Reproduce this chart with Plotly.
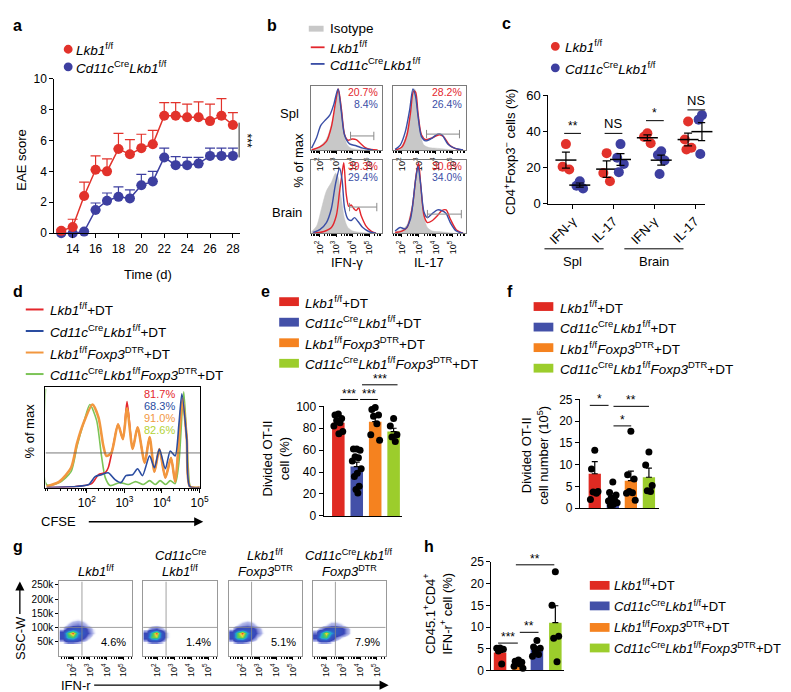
import numpy as np
import plotly.graph_objects as go

W, H = 791, 692
FONT = "Liberation Sans, Arial, sans-serif"

# ======================= DATA =======================
# (a) EAE clinical score
days = list(range(13, 29))
eae_lkb1 = [0.15, 0.4, 2.4, 4.1, 4.0, 5.45, 5.1, 5.5, 5.75, 7.6, 7.6, 7.5, 7.5, 7.25, 7.6, 7.0]
eae_lkb1_sem = [0.1, 0.5, 0.9, 0.9, 0.8, 1.0, 0.95, 0.9, 0.9, 0.85, 0.85, 0.85, 1.0, 1.1, 1.1, 0.8]
eae_cd11c = [0.0, 0.0, 0.1, 1.5, 2.1, 2.35, 2.25, 3.1, 3.35, 4.9, 4.4, 4.4, 4.5, 5.0, 5.0, 5.0]
eae_cd11c_sem = [0, 0, 0, 0.45, 0.5, 0.65, 0.55, 0.7, 0.65, 0.6, 0.55, 0.5, 0.4, 0.5, 0.5, 0.5]
a_ticks = [14, 16, 18, 20, 22, 24, 26, 28]

# (b) intracellular cytokine histograms (log10 fluorescence, % of max)
spl_ifng_iso = [(1.6, 0), (2.0, 6), (2.4, 18), (2.7, 42), (2.95, 78), (3.12, 100), (3.3, 72), (3.48, 30), (3.65, 9), (3.9, 3), (4.3, 1), (5.0, 0)]
spl_ifng_lkb1 = [(1.5, 0), (2.0, 5), (2.4, 14), (2.7, 38), (2.95, 78), (3.12, 100), (3.3, 68), (3.5, 25), (3.7, 16), (3.95, 18), (4.2, 17), (4.45, 11), (4.75, 4), (5.1, 1), (5.5, 0)]
spl_ifng_cd11c = [(1.5, 3), (1.8, 20), (2.05, 40), (2.3, 48), (2.6, 57), (2.85, 75), (3.1, 100), (3.3, 63), (3.5, 24), (3.8, 10), (4.2, 7), (4.6, 3), (5.2, 0)]
spl_il17_iso = [(1.6, 0), (1.9, 3), (2.2, 20), (2.45, 55), (2.63, 93), (2.75, 100), (2.9, 70), (3.1, 25), (3.3, 8), (3.6, 4), (4.0, 3), (4.4, 2), (5.0, 0)]
spl_il17_lkb1 = [(1.6, 0), (2.0, 5), (2.3, 25), (2.5, 60), (2.68, 96), (2.8, 95), (2.95, 60), (3.15, 25), (3.4, 17), (3.8, 20), (4.2, 25), (4.45, 22), (4.8, 8), (5.2, 2), (5.6, 0)]
spl_il17_cd11c = [(1.6, 1), (1.9, 8), (2.2, 30), (2.45, 65), (2.65, 100), (2.8, 88), (2.95, 55), (3.15, 22), (3.4, 15), (3.8, 20), (4.1, 26), (4.35, 25), (4.7, 10), (5.1, 3), (5.6, 0)]
brain_ifng_iso = [(1.5, 2), (1.8, 10), (2.1, 35), (2.4, 60), (2.7, 72), (2.95, 85), (3.1, 80), (3.3, 50), (3.5, 20), (3.7, 8), (4.0, 3), (4.5, 1), (5.0, 0)]
brain_ifng_lkb1 = [(1.6, 0), (2.2, 2), (2.7, 8), (3.0, 25), (3.2, 60), (3.35, 85), (3.45, 100), (3.6, 55), (3.75, 38), (3.9, 40), (4.05, 35), (4.2, 32), (4.35, 36), (4.5, 25), (4.8, 10), (5.1, 3), (5.4, 0)]
brain_ifng_cd11c = [(1.6, 1), (2.0, 5), (2.4, 15), (2.7, 35), (2.95, 70), (3.2, 92), (3.35, 75), (3.5, 35), (3.7, 20), (3.9, 18), (4.1, 22), (4.3, 17), (4.6, 8), (5.0, 2), (5.4, 0)]
brain_il17_iso = [(1.6, 2), (2.0, 5), (2.3, 12), (2.6, 40), (2.85, 85), (2.97, 95), (3.1, 70), (3.3, 25), (3.5, 8), (3.8, 3), (4.3, 2), (5.0, 0)]
brain_il17_lkb1 = [(1.6, 1), (2.0, 3), (2.3, 8), (2.6, 35), (2.85, 85), (2.98, 100), (3.12, 65), (3.3, 25), (3.5, 15), (3.8, 18), (4.1, 25), (4.35, 32), (4.6, 33), (4.85, 20), (5.2, 5), (5.6, 0)]
brain_il17_cd11c = [(1.6, 3), (1.9, 8), (2.2, 6), (2.5, 20), (2.8, 75), (2.95, 95), (3.1, 70), (3.3, 30), (3.5, 22), (3.8, 28), (4.1, 33), (4.35, 32), (4.6, 28), (4.85, 15), (5.2, 3), (5.6, 0)]
b_gates = [(3.86, 5.27, 23), (3.45, 5.39, 26), (3.8, 5.45, 37), (3.5, 5.5, 27)]
b_pct_lkb1 = ['20.7%', '28.2%', '39.3%', '30.6%']
b_pct_cd11c = ['8.4%', '26.4%', '29.4%', '34.0%']

# (c) CD4+Foxp3- cytokine producers (%)
c_categories = ['IFN-γ', 'IL-17', 'IFN-γ', 'IL-17']
c_lkb1 = [[33, 20.5, 19], [28, 17, 12.5], [39, 37, 33.5], [45.5, 35.5, 31, 30]]
c_cd11c = [[12.5, 10, 8.5], [33, 25.5, 22, 17.5], [29, 27, 24, 16.5], [49, 46.5, 36.5, 27.5]]
c_sig = ['**', 'NS', '*', 'NS']

# (d) CFSE dilution histograms (log10 CFSE, % of max)
cfse_lkb1 = [(0.93, 0), (1.71, 1), (2.13, 4), (2.31, 13), (2.49, 15), (2.57, 20), (2.7, 42), (2.83, 64), (2.96, 49), (3.07, 87), (3.22, 39), (3.35, 61), (3.54, 25), (3.67, 51), (3.8, 16), (3.93, 39), (4.09, 10), (4.24, 30), (4.35, 6), (4.48, 64), (4.55, 88), (4.66, 49), (4.74, 1), (5.0, 0)]
cfse_cd11c = [(0.93, 0), (1.71, 1), (2.05, 3), (2.22, 11), (2.39, 13), (2.57, 15), (2.75, 8), (2.91, 5), (3.04, 12), (3.22, 13), (3.35, 19), (3.48, 12), (3.67, 32), (3.8, 20), (3.93, 39), (4.09, 19), (4.22, 37), (4.35, 32), (4.45, 64), (4.53, 95), (4.66, 49), (4.74, 1), (5.0, 0)]
cfse_lkb1_foxp3 = [(0.93, 1), (1.27, 6), (1.58, 20), (1.74, 45), (1.92, 66), (2.15, 84), (2.31, 71), (2.44, 42), (2.52, 32), (2.65, 35), (2.83, 64), (2.96, 49), (3.07, 80), (3.22, 39), (3.35, 61), (3.54, 25), (3.67, 51), (3.8, 16), (3.93, 39), (4.09, 10), (4.24, 30), (4.35, 6), (4.48, 64), (4.55, 90), (4.66, 49), (4.74, 1), (5.0, 0)]
cfse_cd11c_foxp3 = [(0.9, 100), (0.93, 3), (1.27, 5), (1.58, 16), (1.74, 42), (1.92, 66), (2.08, 84), (2.26, 68), (2.39, 32), (2.49, 10), (2.62, 2), (2.88, 5), (3.1, 3), (3.3, 6), (3.5, 3), (3.67, 7), (3.82, 3), (3.95, 7), (4.1, 3), (4.22, 7), (4.35, 4), (4.45, 25), (4.58, 97), (4.7, 20), (4.76, 1), (5.0, 0)]
d_pct = ['81.7%', '68.3%', '91.0%', '82.6%']

# (e) divided OT-II cells (%)
e_mean = [85, 45, 86, 77]
e_sem = [2.5, 4.0, 4.0, 3.0]
e_dots = [[93, 92, 89, 87, 85, 82, 77, 75],
          [61, 61, 60, 54, 53, 50, 43, 39, 36, 27, 24, 21],
          [99, 97, 92, 91, 84, 74, 69],
          [89, 82, 74, 72, 68]]

# (f) divided OT-II cell number (10^5)
f_mean = [7.9, 1.85, 6.3, 7.1]
f_sem = [2.8, 0.7, 2.2, 2.1]
f_dots = [[13.3, 9.0, 3.8, 3.7, 3.4, 2.0],
          [6.0, 3.6, 3.0, 2.4, 2.0, 1.6, 1.2, 0.8, 0.6],
          [17.7, 7.7, 6.7, 3.8, 3.5, 3.4, 1.8],
          [12.9, 9.9, 5.2, 4.0, 3.8]]

# (g) IFN-r vs SSC-W density (binned log10 IFN-r x SSC-W)
g_xbins = [1.35, 1.65, 1.95, 2.25, 2.55, 2.85, 3.15, 3.45]
g_ybins = [50000, 65000, 80000, 95000, 110000, 125000, 140000]
g_density = [
    [[0.4, 1.2, 1.2, 0.8, 0.4, 0.2, 0, 0],
     [2, 6, 7, 4, 2, 0.8, 0.3, 0],
     [2, 7, 10, 5, 3, 1.5, 0.6, 0.2],
     [0.5, 2, 3, 3, 2.5, 1.2, 0.5, 0.2],
     [0.2, 0.6, 1, 1.2, 0.9, 0.5, 0.2, 0],
     [0, 0.2, 0.4, 0.5, 0.4, 0.2, 0, 0],
     [0, 0, 0.2, 0.2, 0.1, 0, 0, 0]],
    [[0.4, 1.2, 1.2, 0.6, 0.2, 0, 0, 0],
     [2, 7, 8, 3, 0.6, 0.2, 0, 0],
     [1.5, 6, 10, 3, 0.6, 0.2, 0, 0],
     [0.3, 1.2, 1.5, 0.8, 0.3, 0.1, 0, 0],
     [0, 0.3, 0.4, 0.3, 0.1, 0, 0, 0],
     [0, 0.1, 0.2, 0.1, 0, 0, 0, 0],
     [0, 0, 0, 0, 0, 0, 0, 0]],
    [[0.4, 1.2, 1.2, 0.7, 0.3, 0.2, 0, 0],
     [2, 7, 8, 4, 1.8, 0.6, 0.2, 0],
     [2, 7, 10, 5, 2.5, 1.2, 0.5, 0.1],
     [0.5, 2, 2.5, 2.5, 2, 1, 0.4, 0.1],
     [0.1, 0.5, 0.8, 1, 0.8, 0.4, 0.2, 0],
     [0, 0.1, 0.3, 0.4, 0.3, 0.1, 0, 0],
     [0, 0, 0.1, 0.1, 0.1, 0, 0, 0]],
    [[0.3, 1, 1, 0.5, 0.2, 0, 0, 0],
     [1.8, 6, 7, 3, 1.2, 0.6, 0.3, 0.1],
     [1.2, 5, 9, 5, 3, 2, 1, 0.3],
     [0.3, 1, 2, 3, 3, 2, 1, 0.3],
     [0, 0.2, 0.5, 0.8, 0.8, 0.6, 0.3, 0.1],
     [0, 0, 0.1, 0.3, 0.3, 0.2, 0.1, 0],
     [0, 0, 0, 0, 0, 0, 0, 0]]]
g_gate = (2.53, 100000)
g_pct = ['4.6%', '1.4%', '5.1%', '7.9%']
g_yticks = [50000, 100000, 150000, 200000, 250000]
g_yticktext = ['50k', '100k', '150k', '200k', '250k']

# (h) CD45.1+CD4+IFN-r+ cells (%)
h_mean = [4.15, 1.35, 4.85, 11.0]
h_sem = [0.7, 0.3, 0.6, 3.9]
h_dots = [[5.2, 5.1, 4.9, 4.5, 1.5],
          [2.4, 2.1, 1.9, 1.8, 1.5, 1.0, 0.5],
          [6.9, 5.4, 5.1, 4.5, 3.7, 3.3],
          [22.7, 15.0, 7.9, 7.4, 2.0]]

# ======================= STYLE =======================
RED_A, BLUE_A = '#e2322b', '#3d3fa0'
HRED, HBLUE, HGRAY = '#e3262d', '#3a4ea6', '#c8c8c8'
BAR_RED, BAR_BLUE, BAR_ORANGE, BAR_GREEN = '#e02a22', '#4350a8', '#f5821f', '#9ccd2c'
D_RED, D_BLUE, D_ORANGE, D_GREEN = '#e4262b', '#2a4ca0', '#f2973f', '#7cc457'
PCT_GREEN = '#b3d236'
G_CS = [[0.0, 'rgba(255,255,255,0)'], [0.03, 'rgba(255,255,255,0)'], [0.06, 'rgba(110,120,215,0.5)'],
        [0.15, '#3a46b8'], [0.38, '#2f62c8'], [0.52, '#22a8d8'], [0.64, '#2cc08a'], [0.76, '#7ad040'],
        [0.86, '#f0e040'], [0.94, '#f09030'], [1.0, '#e83020']]

LOG_T = [2, 3, 4, 5]
LOG_TT = ['10<sup>2</sup>', '10<sup>3</sup>', '10<sup>4</sup>', '10<sup>5</sup>']
LOG_MINOR = [float(np.log10(k) + e) for e in range(0, 6) for k in range(2, 10)]

JIT = [0.0, -0.18, 0.18, -0.09, 0.09, -0.24, 0.24, 0.03, -0.13, 0.13, -0.04, 0.06]

L_LKB = '<i>Lkb1</i><sup>f/f</sup>'
L_CD = '<i>Cd11c</i><sup>Cre</sup><i>Lkb1</i><sup>f/f</sup>'
L_FOX = '<i>Foxp3</i><sup>DTR</sup>'
DT_LABELS = [L_LKB + '+DT', L_CD + '+DT', L_LKB + L_FOX + '+DT', L_CD + L_FOX + '+DT']
LEG = 13.5


def dx(a, b):
    return [a / W, b / W]


def dy(t, b):
    return [1 - b / H, 1 - t / H]


BASE = dict(showgrid=False, zeroline=False, showline=True, linecolor='black', linewidth=1,
            ticks='outside', ticklen=4, tickwidth=1, tickcolor='black',
            tickfont=dict(family=FONT, size=12, color='black'), fixedrange=True)
axes = {}


def add_axes(n, xdom, ydom, xkw=None, ykw=None):
    s = '' if n == 1 else str(n)
    xa = dict(BASE)
    xa.update(domain=xdom, anchor='y' + s)
    xa.update(xkw or {})
    ya = dict(BASE)
    ya.update(domain=ydom, anchor='x' + s)
    ya.update(ykw or {})
    axes['xaxis' + s] = xa
    axes['yaxis' + s] = ya
    return 'x' + s, 'y' + s


ann, shp = [], []


def txt(x, y, s, size=13, color='black', xa='left', ya='middle', angle=0, bold=False):
    if bold:
        s = '<b>' + s + '</b>'
    ann.append(dict(x=x / W, y=1 - y / H, xref='paper', yref='paper', text=s, showarrow=False,
                    xanchor=xa, yanchor=ya, textangle=angle, borderpad=0,
                    font=dict(family=FONT, size=size, color=color)))


def pline(x0, y0, x1, y1, color='black', width=1):
    shp.append(dict(type='line', xref='paper', yref='paper', x0=x0 / W, x1=x1 / W,
                    y0=1 - y0 / H, y1=1 - y1 / H, line=dict(color=color, width=width)))


def prect(x0, y0, x1, y1, color):
    shp.append(dict(type='rect', xref='paper', yref='paper', x0=x0 / W, x1=x1 / W,
                    y0=1 - y1 / H, y1=1 - y0 / H, fillcolor=color, line=dict(width=0)))


def pcircle(cx, cy, r, color):
    shp.append(dict(type='circle', xref='paper', yref='paper', x0=(cx - r) / W, x1=(cx + r) / W,
                    y0=1 - (cy + r) / H, y1=1 - (cy - r) / H, fillcolor=color, line=dict(width=0)))


def parrow(x0, y0, x1, y1):
    ann.append(dict(x=x1 / W, y=1 - y1 / H, xref='paper', yref='paper', ax=x0 - x1, ay=y0 - y1,
                    axref='pixel', ayref='pixel', showarrow=True, arrowhead=2, arrowsize=1.4,
                    arrowwidth=1.3, arrowcolor='black', text=''))


fig = go.Figure()


def xy(pairs):
    return [p[0] for p in pairs], [p[1] for p in pairs]


# ======================= PANEL a =======================
xa_, ya_ = add_axes(1, dx(45, 233), dy(65, 223),
                    dict(range=[12.4, 28.6], tickvals=a_ticks),
                    dict(range=[0, 10], tickvals=[0, 2, 4, 6, 8, 10]))
for yv, err, col in [(eae_cd11c, eae_cd11c_sem, BLUE_A), (eae_lkb1, eae_lkb1_sem, RED_A)]:
    fig.add_trace(go.Scatter(x=days, y=yv, mode='lines+markers', xaxis=xa_, yaxis=ya_,
                             line=dict(color=col, width=1.5), marker=dict(size=10, color=col),
                             error_y=dict(type='data', symmetric=False, array=err,
                                          arrayminus=[0] * len(err), color=col, thickness=1.2, width=5),
                             cliponaxis=False, showlegend=False, hoverinfo='skip'))
fig.add_trace(go.Scatter(x=[28.55, 28.55], y=[4.9, 7.15], mode='lines', xaxis=xa_, yaxis=ya_,
                         line=dict(color='black', width=1), showlegend=False, hoverinfo='skip'))
txt(240, 128, '***', size=12, xa='center', angle=90)
txt(140, 265, 'Time (d)', size=13, xa='center')
txt(12, 148, 'EAE score', size=13, xa='center', angle=-90)
pcircle(59, 35, 4.5, RED_A)
pcircle(59, 53, 4.5, BLUE_A)
txt(66, 35, L_LKB, size=LEG)
txt(66, 53, L_CD, size=LEG)
txt(8, 11, 'a', size=16, bold=True, xa='center')

# ======================= PANEL b =======================
b_sets = [(spl_ifng_iso, spl_ifng_lkb1, spl_ifng_cd11c),
          (spl_il17_iso, spl_il17_lkb1, spl_il17_cd11c),
          (brain_ifng_iso, brain_ifng_lkb1, brain_ifng_cd11c),
          (brain_il17_iso, brain_il17_lkb1, brain_il17_cd11c)]
b_boxes = [((305, 377), (73, 138)), ((388, 462), (73, 138)), ((305, 377), (148, 223)), ((388, 462), (148, 223))]
for i, ((iso, lk, cd), ((x0, x1), (y0, y1))) in enumerate(zip(b_sets, b_boxes)):
    xa_, ya_ = add_axes(3 + i, dx(x0, x1), dy(y0, y1),
                        dict(range=[1.45, 5.75], tickvals=LOG_T, ticktext=LOG_TT, tickangle=-90,
                             tickfont=dict(family=FONT, size=9, color='black'), ticklen=3,
                             minor=dict(tickvals=LOG_MINOR, ticklen=2, ticks='outside', tickcolor='black'),
                             mirror=True, linecolor='#7a7a7a'),
                        dict(range=[0, 104], showticklabels=False, ticks='', mirror=True, linecolor='#7a7a7a'))
    X, Y = xy(iso)
    fig.add_trace(go.Scatter(x=X, y=Y, mode='lines', fill='tozeroy', fillcolor=HGRAY, xaxis=xa_, yaxis=ya_,
                             line=dict(color=HGRAY, width=0.5, shape='spline', smoothing=0.8),
                             showlegend=False, hoverinfo='skip'))
    for pairs, col in [(lk, HRED), (cd, HBLUE)]:
        X, Y = xy(pairs)
        fig.add_trace(go.Scatter(x=X, y=Y, mode='lines', xaxis=xa_, yaxis=ya_,
                                 line=dict(color=col, width=1.4, shape='spline', smoothing=0.8),
                                 showlegend=False, hoverinfo='skip'))
    g0, g1, gy = b_gates[i]
    fig.add_trace(go.Scatter(x=[g0, g1], y=[gy, gy], mode='lines+markers', xaxis=xa_, yaxis=ya_,
                             line=dict(color='#8a8a8a', width=1),
                             marker=dict(symbol='line-ns-open', size=6, color='#8a8a8a',
                                         line=dict(color='#8a8a8a', width=1)),
                             showlegend=False, hoverinfo='skip'))
    txt(x1 - 3, y0 + 6, b_pct_lkb1[i], size=10.5, color=HRED, xa='right')
    txt(x1 - 3, y0 + 18, b_pct_cd11c[i], size=10.5, color=HBLUE, xa='right')
prect(303, 11, 318, 17, HGRAY)
pline(305, 33, 319, 33, HRED, 1.8)
pline(305, 50, 319, 50, HBLUE, 1.8)
txt(323, 14, 'Isotype', size=LEG)
txt(323, 33, L_LKB, size=LEG)
txt(323, 50, L_CD, size=LEG)
txt(283, 101, 'Spl', size=13, xa='center')
txt(281, 202, 'Brain', size=13, xa='center')
txt(293, 148, '% of max', size=13, xa='center', angle=-90)
txt(342, 253, 'IFN-γ', size=13, xa='center')
txt(425, 253, 'IL-17', size=13, xa='center')
txt(266, 11, 'b', size=16, bold=True, xa='center')

# ======================= PANEL c =======================
xa_, ya_ = add_axes(2, dx(546, 705), dy(82, 193),
                    dict(range=[0.4, 4.25], tickvals=[1, 2, 3, 4], ticktext=c_categories, tickangle=-45,
                         tickfont=dict(family=FONT, size=13, color='black')),
                    dict(range=[0, 60], tickvals=[0, 20, 40, 60], tickfont=dict(family=FONT, size=13, color='black')))
for gi in range(4):
    for vals, off, col in [(c_lkb1[gi], -0.17, RED_A), (c_cd11c[gi], 0.17, BLUE_A)]:
        cx = gi + 1 + off
        fig.add_trace(go.Scatter(x=[cx + 0.45 * JIT[k] for k in range(len(vals))], y=vals, mode='markers',
                                 xaxis=xa_, yaxis=ya_, marker=dict(size=10, color=col),
                                 cliponaxis=False, showlegend=False, hoverinfo='skip'))
        m = float(np.mean(vals))
        s = float(np.std(vals, ddof=1) / np.sqrt(len(vals)))
        fig.add_trace(go.Scatter(x=[cx], y=[m], mode='markers', xaxis=xa_, yaxis=ya_,
                                 marker=dict(symbol='line-ew-open', size=15, color='black',
                                             line=dict(color='black', width=1.5)),
                                 error_y=dict(type='data', array=[s], color='black', thickness=1.2, width=4),
                                 cliponaxis=False, showlegend=False, hoverinfo='skip'))
# significance brackets (annotation decorations)
for (x0, x1, ly), s in zip([(562, 579, 121), (603, 621, 121), (645, 663, 108), (687, 705, 97)], c_sig):
    pline(x0, ly, x1, ly)
    txt((x0 + x1) / 2, ly - (8 if s.startswith('*') else 10), s, size=13 if s == 'NS' else 12, xa='center')
pline(542, 239, 602, 239)
pline(623, 239, 683, 239)
txt(570, 252, 'Spl', size=13, xa='center')
txt(653, 252, 'Brain', size=13, xa='center')
txt(507, 140, 'CD4<sup>+</sup>Foxp3<sup>−</sup> cells (%)', size=13, xa='center', angle=-90)
pcircle(553, 32, 4.5, RED_A)
pcircle(553, 54, 4.5, BLUE_A)
txt(562, 32, L_LKB, size=LEG)
txt(562, 54, L_CD, size=LEG)
txt(503, 9, 'c', size=16, bold=True, xa='center')

# ======================= PANEL d =======================
xa_, ya_ = add_axes(7, dx(36, 193), dy(380, 483),
                    dict(range=[0.9, 5.02], tickvals=LOG_T, ticktext=LOG_TT,
                         tickfont=dict(family=FONT, size=12, color='black'),
                         minor=dict(tickvals=LOG_MINOR, ticklen=2, ticks='outside', tickcolor='black'),
                         mirror=True),
                    dict(range=[0, 102], showticklabels=False, ticks='', mirror=True))
shp.append(dict(type='line', xref=xa_, yref=ya_, x0=0.9, x1=5.02, y0=35, y1=35,
                line=dict(color='#555555', width=0.8)))
for pairs, col, wd in [(cfse_cd11c_foxp3, D_GREEN, 1.6), (cfse_lkb1, D_RED, 1.6),
                       (cfse_lkb1_foxp3, D_ORANGE, 2.6), (cfse_cd11c, D_BLUE, 1.6)]:
    X, Y = xy(pairs)
    fig.add_trace(go.Scatter(x=X, y=Y, mode='lines', xaxis=xa_, yaxis=ya_,
                             line=dict(color=col, width=wd, shape='spline', smoothing=0.7),
                             showlegend=False, hoverinfo='skip'))
for lab, col, yy in zip(d_pct, [D_RED, D_BLUE, D_ORANGE, PCT_GREEN], [387, 400, 412, 424]):
    txt(168, yy, lab, size=11, color=col, xa='right')
for lab, col, yy in zip(DT_LABELS, [D_RED, D_BLUE, D_ORANGE, D_GREEN], [301, 323, 345, 367]):
    pline(16, yy, 34, yy, col, 2)
    txt(40, yy, lab, size=LEG)
txt(20, 425, '% of max', size=13, xa='center', angle=-90)
txt(49, 518, 'CFSE', size=13, xa='center')
parrow(80, 518, 196, 518)
txt(8, 283, 'd', size=16, bold=True, xa='center')


# ======================= bar panels e, f, h =======================
def bar_panel(n, xdom, ydom, yr, ytv, means, sems, dots, colors, xr):
    xa_, ya_ = add_axes(n, xdom, ydom,
                        dict(range=xr, showticklabels=False, ticks=''),
                        dict(range=yr, tickvals=ytv))
    fig.add_trace(go.Bar(x=[1, 2, 3, 4], y=means, width=0.68, xaxis=xa_, yaxis=ya_,
                         marker=dict(color=colors, line=dict(width=0)),
                         error_y=dict(type='data', symmetric=False, array=sems, arrayminus=[0] * 4,
                                      color='black', thickness=1.2, width=3),
                         showlegend=False, hoverinfo='skip'))
    for i, vals in enumerate(dots):
        fig.add_trace(go.Scatter(x=[i + 1 + JIT[k] for k in range(len(vals))], y=vals, mode='markers',
                                 xaxis=xa_, yaxis=ya_, marker=dict(size=7, color='black'),
                                 cliponaxis=False, showlegend=False, hoverinfo='skip'))


BAR_COLS = [BAR_RED, BAR_BLUE, BAR_ORANGE, BAR_GREEN]

# e
bar_panel(8, dx(318, 398), dy(400, 512), [0, 100], [0, 20, 40, 60, 80, 100],
          e_mean, e_sem, e_dots, BAR_COLS, [0.2, 4.48])
for x0, x1, ly in [(335, 353, 393), (355, 373, 393), (357, 393, 378)]:
    pline(x0, ly, x1, ly)
    txt((x0 + x1) / 2, ly - 6, '***', size=12, xa='center')
txt(270, 453, 'Divided OT-II<br>cell (%)', size=13, xa='center', angle=-90)
for lab, col, yy in zip(DT_LABELS, BAR_COLS, [293, 314, 335, 356]):
    prect(273, yy - 4.5, 293, yy + 4.5, col)
    txt(298, yy, lab, size=LEG)
txt(259, 283, 'e', size=16, bold=True, xa='center')

# f
bar_panel(9, dx(578, 658), dy(393, 504), [0, 25], [0, 5, 10, 15, 20, 25],
          f_mean, f_sem, f_dots, BAR_COLS, [0.18, 4.55])
for x0, x1, ly, s in [(588, 607, 399, '*'), (612, 648, 400, '**'), (612, 630, 420, '*')]:
    pline(x0, ly, x1, ly)
    txt((x0 + x1) / 2, ly - 6, s, size=12, xa='center')
txt(533, 450, 'Divided OT-II<br>cell number (10<sup>5</sup>)', size=13, xa='center', angle=-90)
for lab, col, yy in zip(DT_LABELS, BAR_COLS, [298, 319, 340, 361]):
    prect(531, yy - 4.5, 551, yy + 4.5, col)
    txt(557, yy, lab, size=LEG)
txt(507, 283, 'f', size=16, bold=True, xa='center')

# h
bar_panel(14, dx(488, 562), dy(559, 670), [0, 25], [0, 5, 10, 15, 20, 25],
          h_mean, h_sem, h_dots, [BAR_RED, BAR_ORANGE, BAR_BLUE, BAR_GREEN], [0.52, 4.48])
for x0, x1, ly, s in [(495, 515, 642, '***'), (517, 536, 631, '**'), (513, 552, 562, '**')]:
    pline(x0, ly, x1, ly)
    txt((x0 + x1) / 2, ly - 6, s, size=12, xa='center')
txt(434, 612, 'CD45.1<sup>+</sup>CD4<sup>+</sup><br>IFN-r<sup>+</sup> cell (%)', size=13, xa='center', angle=-90)
for lab, col, yy in zip(DT_LABELS, BAR_COLS, [583, 604, 626, 647]):
    prect(588, yy - 4.5, 608, yy + 4.5, col)
    txt(612, yy, lab, size=13)
txt(425, 543, 'h', size=16, bold=True, xa='center')

# ======================= PANEL g =======================
g_boxes = [(50, 124), (135, 210), (222, 296), (307, 381)]
g_titles = [(None, L_LKB), ('<i>Cd11c</i><sup>Cre</sup>', L_LKB), (L_LKB, L_FOX), (L_CD, L_FOX)]
for i, (x0, x1) in enumerate(g_boxes):
    xa_, ya_ = add_axes(10 + i, dx(x0, x1), dy(579, 655),
                        dict(range=[1.18, 5.53], tickvals=LOG_T, ticktext=LOG_TT, tickangle=-90,
                             tickfont=dict(family=FONT, size=9, color='black'), ticklen=3,
                             minor=dict(tickvals=LOG_MINOR, ticklen=2, ticks='outside', tickcolor='black'),
                             mirror=True, linecolor='#999999'),
                        dict(range=[0, 262000], tickvals=g_yticks, ticktext=g_yticktext,
                             tickfont=dict(family=FONT, size=10, color='black'), ticklen=3,
                             showticklabels=(i == 0), ticks='outside' if i == 0 else '',
                             mirror=True, linecolor='#999999'))
    fig.add_trace(go.Heatmap(x=g_xbins, y=g_ybins, z=g_density[i], zmin=0, zmax=10, zsmooth='best',
                             colorscale=G_CS, showscale=False, xaxis=xa_, yaxis=ya_, hoverinfo='skip'))
    shp.append(dict(type='line', xref=xa_, yref=ya_, x0=g_gate[0], x1=g_gate[0], y0=0, y1=262000,
                    line=dict(color='#888888', width=0.8)))
    shp.append(dict(type='line', xref=xa_, yref=ya_, x0=1.18, x1=5.53, y0=g_gate[1], y1=g_gate[1],
                    line=dict(color='#888888', width=0.8)))
    txt(x1 - 5, 641, g_pct[i], size=11, xa='right')
    top, bot = g_titles[i]
    cx = (x0 + x1) / 2
    if top:
        txt(cx, 552, top, size=13, xa='center')
    txt(cx, 568, bot, size=13, xa='center')
txt(10, 637, 'SSC-W', size=13, xa='center', angle=-90)
parrow(10, 613, 10, 579)
txt(67, 685, 'IFN-r', size=13, xa='center')
parrow(88, 685, 384, 685)
txt(8, 543, 'g', size=16, bold=True, xa='center')

fig.update_layout(width=W, height=H, margin=dict(l=0, r=0, t=0, b=0),
                  paper_bgcolor='white', plot_bgcolor='rgba(0,0,0,0)',
                  showlegend=False, annotations=ann, shapes=shp,
                  font=dict(family=FONT, color='black'), **axes)
fig.write_html("out.html")
